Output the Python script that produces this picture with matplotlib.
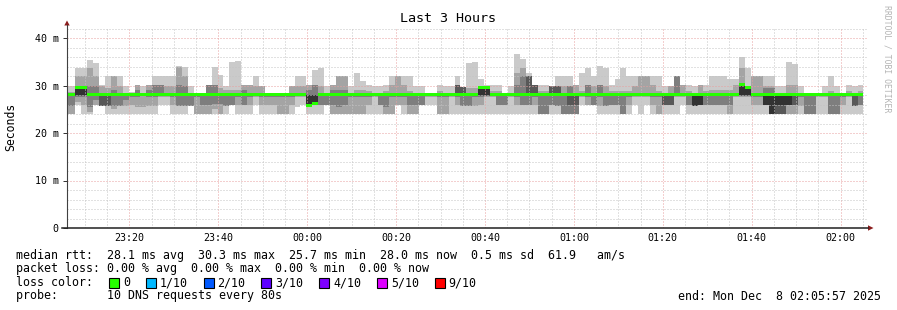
import numpy as np
import pandas as pd
import matplotlib
matplotlib.use('Agg')
import matplotlib.pyplot as plt
import matplotlib.dates as mdates
from matplotlib.lines import Line2D
from matplotlib.patches import Polygon, Rectangle

plt.rcParams['font.family'] = 'DejaVu Sans Mono'

W, H = 897, 310

start = pd.Timestamp('2025-12-07 23:05:57')
end = pd.Timestamp('2025-12-08 02:05:57')
first_step_s = 32   # first 80 s step boundary after graph start
step_s = 80

# 10 sorted DNS round trips per 80 s step (ms)
pings_ms = [
    [24, 24, 25.6, 28, 28, 28, 28, 28, 28.6, 29.8],
    [24, 24, 25.6, 28, 28, 28, 28, 28, 28.6, 29.8],
    [25.8, 26.5, 27.5, 27.8, 27.9, 29.5, 29.6, 30, 32, 33.7],
    [24, 26, 27.5, 27.8, 27.9, 29.5, 29.6, 30, 32, 33.7],
    [24, 24.5, 25.5, 28, 28, 28, 28, 30, 33.7, 35.4],
    [25.8, 26, 27, 28, 28, 28, 28, 30, 32, 34.8],
    [25.6, 25.6, 25.6, 25.6, 28, 28, 28, 28.5, 30, 30.2],
    [24, 25.6, 25.6, 25.6, 28, 28, 28, 28.3, 29.5, 32],
    [24, 25, 25.6, 28, 28, 28, 28, 29, 32, 32],
    [24, 25.6, 25.6, 28, 28, 28, 28, 28.5, 30, 32],
    [24, 25.6, 27, 28, 28, 28, 28, 28, 28.5, 30],
    [24, 26, 27.5, 28, 28, 28, 28, 28, 28, 28.6],
    [24, 25.5, 27.5, 28, 28, 28, 28, 29, 30.2, 30.2],
    [24, 25.5, 28, 28, 28, 28, 28, 28, 28.5, 29.8],
    [24, 25.6, 27.5, 28, 28, 28, 28, 29, 30.2, 30.2],
    [24, 25.6, 27.5, 28, 28, 28, 28, 30.2, 30.2, 32],
    [25.8, 27.6, 28, 28, 28, 28, 28, 30.2, 30.2, 32],
    [25.8, 27.6, 28, 28, 28, 28, 28, 28.5, 30, 32],
    [24, 25.8, 27.5, 28, 28, 28, 28, 28.5, 30, 32],
    [24, 25.6, 25.6, 28, 28, 28, 28, 30.2, 34, 34.2],
    [24, 25.6, 25.6, 28, 28, 28, 28, 30, 32, 34],
    [25.6, 25.6, 25.6, 28, 28, 28, 28, 28.3, 28.5, 29.8],
    [24, 24, 27.6, 28, 28, 28, 28, 28, 28, 28.5],
    [24, 24, 26, 28, 28, 28, 28, 28, 28, 28.5],
    [24, 24, 26, 28, 28, 28, 28, 30.2, 30.2, 30.2],
    [24, 25, 26.2, 28, 28, 28, 28, 30.2, 30.2, 34],
    [24, 24, 26.2, 28, 28, 28, 28, 28.5, 29.5, 32.3],
    [24, 25.6, 25.6, 28, 28, 28, 28, 28.3, 29, 30],
    [26, 26, 26, 28, 28, 28, 28, 28.5, 29, 35],
    [24, 25.8, 27.6, 28, 28, 28, 28, 28.5, 29, 35.2],
    [24, 25.8, 25.8, 28, 28, 28, 28, 29, 30.2, 30.2],
    [24, 25.8, 27.6, 28, 28, 28, 28, 28.5, 30.2, 30.2],
    [25.8, 27.6, 28, 28, 28, 28, 28, 28.5, 29.8, 32],
    [24, 25.8, 27.6, 28, 28, 28, 28, 28.5, 29.8, 29.8],
    [24, 25.8, 27.6, 28, 28, 28, 28, 28, 28, 28.4],
    [24, 25.8, 27.6, 28, 28, 28, 28, 28, 28, 28.4],
    [24, 24, 27.6, 28, 28, 28, 28, 28, 28, 28.4],
    [24, 24, 27.6, 28, 28, 28, 28, 28, 28, 28.4],
    [24, 25.8, 27.6, 28, 28, 28, 28, 28.5, 30, 30],
    [25.5, 27.6, 28, 28, 28, 28, 28, 28.5, 30, 32],
    [25.8, 27.6, 28, 28, 28, 28, 28, 28.5, 30, 32],
    [24, 25.7, 25.7, 25.7, 25.7, 28, 28, 29, 30.2, 30.2],
    [24, 26, 26.3, 26.3, 26.3, 28, 28, 30.2, 30.2, 33.3],
    [24, 26, 26, 28, 28, 28, 28, 28.5, 29.8, 33.75],
    [26, 26, 26, 28, 28, 28, 28, 28.3, 28.5, 29.8],
    [24, 24, 25.8, 28, 28, 28, 28, 29, 30.2, 30.2],
    [24, 24, 25.5, 28, 28, 28, 28, 29, 32, 32],
    [24, 24, 25.8, 28, 28, 28, 28, 29, 32, 32],
    [24, 24, 27.6, 28, 28, 28, 28, 28.3, 28.5, 29.8],
    [24, 24, 27.6, 28, 28, 28, 28, 28.3, 29, 32.6],
    [24, 24, 27.6, 28, 28, 28, 28, 28.3, 29, 31],
    [24, 25.8, 27.6, 28, 28, 28, 28, 28.3, 28.8, 30.2],
    [24, 27.6, 28, 28, 28, 28, 28, 28, 28.5, 30],
    [24, 25.8, 25.8, 28, 28, 28, 28, 28, 28.5, 30],
    [24, 24, 25.5, 28, 28, 28, 28, 28.3, 28.8, 30.2],
    [24, 24, 27.6, 28, 28, 28, 28, 28.3, 30.2, 32],
    [25.8, 26, 27.6, 28, 28, 28, 28, 28.5, 32, 32],
    [24, 25.8, 27.6, 28, 28, 28, 28, 28.3, 30.2, 32],
    [24, 24, 25.8, 28, 28, 28, 28, 28.3, 28.8, 32],
    [24, 24, 25.8, 28, 28, 28, 28, 28.3, 28.5, 29.8],
    [25.8, 25.8, 25.8, 28, 28, 28, 28, 28.3, 28.5, 29.8],
    [25.8, 27.6, 28, 28, 28, 28, 28, 28, 28, 28.4],
    [25.8, 27.6, 28, 28, 28, 28, 28, 28, 28, 28.4],
    [24, 24, 27.6, 28, 28, 28, 28, 28.3, 28.8, 30.2],
    [24, 24, 27.6, 28, 28, 28, 28, 28.3, 28.5, 29.8],
    [24, 27.6, 28, 28, 28, 28, 28, 28.3, 28.5, 29.8],
    [24, 25.8, 27.6, 28, 28, 28, 30.2, 30.2, 30.2, 32],
    [24, 25.6, 25.6, 28, 28, 28, 29.7, 29.7, 29.7, 29.7],
    [24, 25.6, 25.6, 28, 28, 28, 28, 28.5, 29.5, 34.7],
    [24, 25.6, 27.6, 28, 28, 28, 28, 28.5, 29.5, 35],
    [24, 25.8, 27.6, 27.8, 27.9, 29.6, 29.7, 29.8, 30, 31.3],
    [24, 27.6, 27.7, 27.8, 27.9, 29.6, 29.7, 29.8, 29.9, 30.2],
    [24, 27.6, 28, 28, 28, 28, 28, 28.3, 28.8, 30.2],
    [24, 25.8, 25.8, 28, 28, 28, 28, 28.3, 28.8, 30.2],
    [24, 26, 26, 28, 28, 28, 28, 28, 28, 28.4],
    [24, 27.6, 28, 28, 28, 28, 28, 28.3, 28.5, 29.8],
    [24, 25.8, 27.6, 28, 28, 28, 28, 30.2, 32.6, 36.7],
    [24, 25.8, 25.8, 28, 28, 28, 28, 32, 33.75, 35.5],
    [24, 25.8, 25.8, 28, 28, 28, 32, 32, 32, 32.6],
    [24, 25.8, 27.6, 28, 28, 28, 30.2, 30.2, 30.2, 30.2],
    [24, 24, 24, 28, 28, 28, 28, 28.3, 28.8, 30.2],
    [24, 24, 24, 28, 28, 28, 28, 28.3, 28.8, 30.2],
    [24, 25.8, 25.8, 28, 28, 28, 29.8, 29.8, 29.8, 29.8],
    [24, 25.6, 25.6, 28, 28, 28, 29.8, 29.8, 29.8, 32],
    [24, 24, 24, 28, 28, 28, 28, 28.5, 30, 32],
    [24, 24, 24, 26, 28, 28, 28, 30, 30, 32],
    [24, 24, 24, 26, 28, 28, 28, 28.5, 30.2, 30.2],
    [25.8, 27.6, 28, 28, 28, 28, 28, 28.3, 28.8, 32.6],
    [25.8, 25.8, 27.6, 28, 28, 28, 28, 30.2, 30.2, 33.75],
    [25.8, 25.8, 25.8, 28, 28, 28, 28, 28.5, 30, 32],
    [24, 25.6, 27.6, 28, 28, 28, 28, 30.2, 30.2, 34.2],
    [24, 25.6, 25.6, 28, 28, 28, 28, 28.5, 30, 33.75],
    [24, 26, 26, 28, 28, 28, 28, 28.3, 28.8, 30.2],
    [24, 25.8, 25.8, 28, 28, 28, 28, 28.3, 28.8, 31.4],
    [24, 24, 24, 28, 28, 28, 28, 28.3, 28.8, 33.75],
    [24, 25.8, 27.6, 28, 28, 28, 28, 28.3, 28.8, 32],
    [25.8, 27.6, 28, 28, 28, 28, 28, 28.5, 30, 32],
    [24, 27.6, 28, 28, 28, 28, 28, 28.5, 32, 32],
    [25.8, 27.6, 28, 28, 28, 28, 28, 28.5, 32, 32],
    [24, 25.8, 27.6, 28, 28, 28, 28, 28.5, 30.2, 32],
    [24, 24, 27.6, 28, 28, 28, 28, 28.3, 28.8, 32],
    [24, 25.8, 25.8, 25.8, 28, 28, 28, 28.3, 28.5, 29.8],
    [24, 25.8, 25.8, 25.8, 28, 28, 28, 28.3, 29.8, 29.8],
    [24, 27.6, 28, 28, 28, 28, 28, 32, 32, 32],
    [25.8, 27.6, 28, 28, 28, 28, 28, 28.5, 30.2, 30.2],
    [24, 25.8, 25.8, 28, 28, 28, 28, 28.3, 28.8, 30.2],
    [24, 25.6, 25.6, 25.6, 25.6, 28, 28, 28.3, 28.5, 29.8],
    [24, 25.8, 25.8, 25.8, 25.8, 28, 28, 28.5, 30.2, 30.2],
    [24, 25.8, 25.8, 28, 28, 28, 28, 28.3, 28.8, 30.2],
    [24, 26, 26, 28, 28, 28, 28, 28.3, 29, 32],
    [24, 26, 26, 28, 28, 28, 28, 28.3, 29, 32],
    [24, 25.8, 25.8, 28, 28, 28, 28, 28.3, 29, 32],
    [24, 24, 25.8, 28, 28, 28, 28, 28.3, 29, 31.4],
    [24, 27.6, 28, 28, 28, 28, 28, 28.5, 30.2, 31.3],
    [24, 27.6, 27.7, 27.8, 27.9, 30.2, 30.3, 30.4, 33.75, 36],
    [24, 27.6, 27.7, 27.8, 27.9, 29.5, 29.6, 29.8, 30, 33.75],
    [24, 25.8, 27.6, 28, 28, 28, 28, 28.5, 32, 32],
    [24, 25.8, 27.6, 28, 28, 28, 28, 28.5, 32, 32],
    [24, 25.8, 25.8, 25.8, 25.8, 28, 28, 29.5, 30, 32],
    [24, 24, 24, 24, 24, 28, 28, 29.5, 29.8, 32],
    [24, 24, 24, 24, 25.8, 28, 28, 28.3, 28.5, 30],
    [24, 24, 24, 24, 25.8, 28, 28, 28.3, 28.5, 30],
    [24, 24, 25.8, 25.8, 25.8, 28, 28, 28.5, 30.2, 35],
    [24, 24, 25.8, 25.8, 28, 28, 28, 28.5, 30.2, 34.6],
    [24, 25.6, 27.6, 28, 28, 28, 28, 28.3, 28.5, 29.8],
    [24, 24, 24, 28, 28, 28, 28, 28, 28, 28.4],
    [24, 24, 24, 28, 28, 28, 28, 28, 28, 28.4],
    [24, 27.6, 28, 28, 28, 28, 28, 28, 28, 28.4],
    [24, 27.6, 28, 28, 28, 28, 28, 28.3, 28.5, 29.8],
    [24, 24, 24, 28, 28, 28, 28, 28.3, 28.8, 32],
    [24, 24, 24, 28, 28, 28, 28, 28.3, 28.5, 29.8],
    [24, 25.8, 27.6, 28, 28, 28, 28, 28, 28, 28.4],
    [24, 27.6, 28, 28, 28, 28, 28, 28.3, 28.8, 30.2],
    [24, 25.6, 25.6, 25.6, 28, 28, 28, 28.3, 28.5, 29.8],
    [24, 25.8, 25.8, 28, 28, 28, 28, 28.3, 28.8, 30.2],
]

median_ms = [
    28.0, 28.0, 29.5, 29.5, 28.0, 28.0, 28.0, 28.0, 28.0, 28.0, 28.0, 28.0, 28.0, 28.0, 28.0,
    28.0, 28.0, 28.0, 28.0, 28.0, 28.0, 28.0, 28.0, 28.0, 28.0, 28.0, 28.0, 28.0, 28.0, 28.0,
    28.0, 28.0, 28.0, 28.0, 28.0, 28.0, 28.0, 28.0, 28.0, 28.0, 28.0, 25.7, 26.3, 28.0, 28.0,
    28.0, 28.0, 28.0, 28.0, 28.0, 28.0, 28.0, 28.0, 28.0, 28.0, 28.0, 28.0, 28.0, 28.0, 28.0,
    28.0, 28.0, 28.0, 28.0, 28.0, 28.0, 28.0, 28.0, 28.0, 28.0, 29.6, 29.6, 28.0, 28.0, 28.0,
    28.0, 28.0, 28.0, 28.0, 28.0, 28.0, 28.0, 28.0, 28.0, 28.0, 28.0, 28.0, 28.0, 28.0, 28.0,
    28.0, 28.0, 28.0, 28.0, 28.0, 28.0, 28.0, 28.0, 28.0, 28.0, 28.0, 28.0, 28.0, 28.0, 28.0,
    28.0, 28.0, 28.0, 28.0, 28.0, 28.0, 28.0, 28.0, 28.0, 30.3, 29.5, 28.0, 28.0, 28.0, 28.0,
    28.0, 28.0, 28.0, 28.0, 28.0, 28.0, 28.0, 28.0, 28.0, 28.0, 28.0, 28.0, 28.0, 28.0, 28.0,
]

y_ticks = [0, 10, 20, 30, 40]
y_tick_labels = ['0', '10 m', '20 m', '30 m', '40 m']

smoke_colors = ['#cacaca', '#a4a4a4', '#7e7e7e', '#585858', '#323232']
loss_labels = ['0', '1/10', '2/10', '3/10', '4/10', '5/10', '9/10']
loss_colors = ['#26ff00', '#00b8ff', '#0059ff', '#5e00ff', '#7e00ff', '#dd00ff', '#ff0000']

stats_lines = [
    'median rtt:  28.1 ms avg  30.3 ms max  25.7 ms min  28.0 ms now  0.5 ms sd  61.9   am/s',
    'packet loss: 0.00 % avg  0.00 % max  0.00 % min  0.00 % now',
    'loss color:',
    'probe:       10 DNS requests every 80s',
]
end_label = 'end: Mon Dec  8 02:05:57 2025'


def fx(x):
    return x / W


def fy(y):
    return 1 - y / H


fig = plt.figure(figsize=(W / 100, H / 100), dpi=100)
fig.patch.set_facecolor('white')
ax = fig.add_axes([fx(67), fy(228), 800 / W, 199.5 / H])

pings = np.array(pings_ms, dtype=float)
med = np.array(median_ms, dtype=float)
n = len(pings)
edge_s = np.concatenate([[0], first_step_s + step_s * np.arange(n)])
x = mdates.date2num(start + pd.to_timedelta(edge_s, unit='s'))


def ext(v):
    return np.append(v, v[-1])


# smoke: outer ping pair lightest, inner pair darkest
for i, c in enumerate(smoke_colors):
    ax.fill_between(x, ext(pings[:, i]), ext(pings[:, 9 - i]), step='post',
                    color=c, lw=0, antialiased=False, zorder=1)
# median band coloured by loss (all 0 here)
ax.fill_between(x, ext(med - 0.3), ext(med + 0.33), step='post',
                color=loss_colors[0], lw=0, antialiased=False, zorder=3)

ax.set_xlim(mdates.date2num(start), mdates.date2num(end))
ax.set_ylim(0, 42)
ax.set_yticks(y_ticks)
ax.set_yticklabels(y_tick_labels)
ax.set_yticks(np.arange(0, 43, 2), minor=True)
ax.xaxis.set_major_locator(mdates.MinuteLocator(byminute=[0, 20, 40]))
ax.xaxis.set_minor_locator(mdates.MinuteLocator(byminute=range(0, 60, 5)))
ax.xaxis.set_major_formatter(mdates.DateFormatter('%H:%M'))

ax.set_axisbelow(False)
ax.grid(True, which='minor', color='#c4c4c4', linestyle=(0, (1, 2)), linewidth=0.72)
ax.grid(True, which='major', color='#e8a0a0', linestyle=(0, (1, 2)), linewidth=0.72)
ax.tick_params(axis='x', which='both', length=0, pad=3.6, labelsize=7.2)
ax.tick_params(axis='y', which='major', length=3, width=0.7, color='#303030',
               pad=3, labelsize=7.2)
ax.tick_params(axis='y', which='minor', length=0)
for s in ax.spines.values():
    s.set_visible(False)

# axis lines with arrows
fig.add_artist(Line2D([fx(67), fx(67)], [fy(25), fy(228)], color='#404040', lw=0.8))
fig.add_artist(Line2D([fx(62), fx(868)], [fy(228), fy(228)], color='#202020', lw=1.1))
fig.add_artist(Polygon([[fx(64.3), fy(25.5)], [fx(69.7), fy(25.5)], [fx(67), fy(20.5)]],
                       closed=True, color='#8b1c1c', lw=0))
fig.add_artist(Polygon([[fx(868), fy(225.3)], [fx(868), fy(230.7)], [fx(873.5), fy(228)]],
                       closed=True, color='#8b1c1c', lw=0))

fig.text(fx(448), fy(19), 'Last 3 Hours', ha='center', va='center', fontsize=9.6)
fig.text(fx(11), fy(127), 'Seconds', ha='center', va='center', rotation=90, fontsize=8.3)
fig.text(fx(886.5), fy(5), 'RRDTOOL / TOBI OETIKER', ha='center', va='top',
         rotation=270, fontsize=5.9, color='#b4b4b4')

char_w = 7.02
line_y = [255, 268.5, 282.5, 296]
for txt, yy in zip(stats_lines, line_y):
    fig.text(fx(16), fy(yy), txt, ha='left', va='center', fontsize=8.4)
fig.text(fx(881), fy(line_y[3]), end_label, ha='right', va='center', fontsize=8.4)

sq_x = 109
for lab, col in zip(loss_labels, loss_colors):
    fig.add_artist(Rectangle((fx(sq_x), fy(line_y[2] + 5)), 10 / W, 10 / H,
                             facecolor=col, edgecolor='black', lw=0.8))
    lab_x = sq_x + 14
    fig.text(fx(lab_x), fy(line_y[2]), lab, ha='left', va='center', fontsize=8.4)
    sq_x = lab_x + len(lab) * char_w + 15.7

fig.savefig('out.png', dpi=100)
